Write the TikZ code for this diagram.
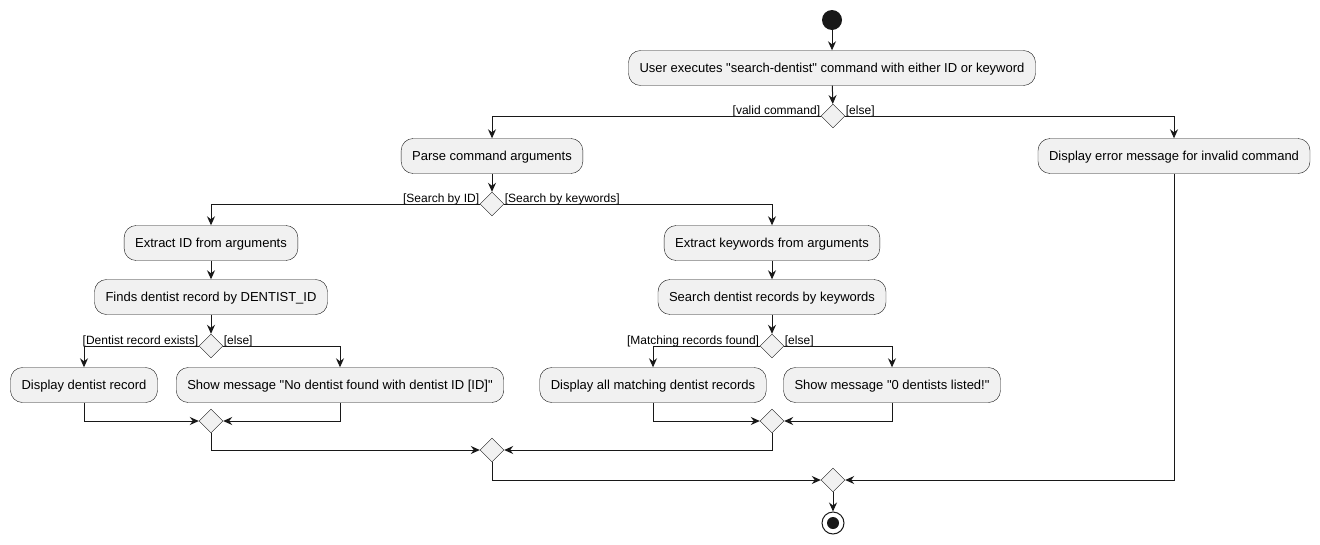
\documentclass[tikz,border=0pt]{standalone}
\usepackage{fontspec}
\newfontfamily\uifont{Liberation Sans}
\usepackage{tikz}
\usetikzlibrary{arrows.meta}
\usetikzlibrary{shapes.geometric}
\definecolor{boxfill}{HTML}{F1F1F1}
\definecolor{ink}{HTML}{181818}
\tikzset{act/.style={draw=ink,fill=boxfill,rounded corners=12pt,minimum height=35pt,inner xsep=11pt,text height=11pt,text depth=3pt,font=\uifont\fontsize{13}{13}\selectfont}}
\tikzset{dec/.style={draw=ink,fill=boxfill,diamond,minimum size=24pt,inner sep=0pt}}
\tikzset{grd/.style={font=\uifont\fontsize{12}{12}\selectfont,inner sep=0.5pt,yshift=-1.5pt}}
\tikzset{flow/.style={-{Stealth[length=9pt,width=8pt,inset=3pt]},line width=1pt,draw=ink}}

\begin{document}
\begin{tikzpicture}[x=1pt,y=-1pt]
      \useasboundingbox (0,0) rectangle (1320,544);
      \node[circle,fill=ink,minimum size=20pt,inner sep=0pt] (start) at (832,20) {};
      \node[act] (exec) at (832,68) {User executes "search-dentist" command with either ID or keyword};
      \node[dec] (valid) at (833,116) {};
      \node[grd,anchor=south east] at (valid.west) {[valid command]};
      \node[grd,anchor=south west] at (valid.east) {[else]};
      \node[act] (parse) at (492,156) {Parse command arguments};
      \node[act] (err) at (1174,156) {Display error message for invalid command};
      \node[dec] (kind) at (492,204) {};
      \node[grd,anchor=south east] at (kind.west) {[Search by ID]};
      \node[grd,anchor=south west] at (kind.east) {[Search by keywords]};
      % search by ID
      \node[act] (extid) at (211,243) {Extract ID from arguments};
      \node[act] (findid) at (211,297) {Finds dentist record by DENTIST\_ID};
      \node[dec] (exists) at (211,346) {};
      \node[grd,anchor=south east] at (exists.west) {[Dentist record exists]};
      \node[grd,anchor=south west] at (exists.east) {[else]};
      \node[act] (showrec) at (84,385) {Display dentist record};
      \node[act] (noid) at (340,385) {Show message "No dentist found with dentist ID [ID]"};
      \node[dec] (joinid) at (211,421) {};
      % search by keywords
      \node[act] (extkw) at (772,243) {Extract keywords from arguments};
      \node[act] (findkw) at (772,297) {Search dentist records by keywords};
      \node[dec] (found) at (772,346) {};
      \node[grd,anchor=south east] at (found.west) {[Matching records found]};
      \node[grd,anchor=south west] at (found.east) {[else]};
      \node[act] (showall) at (653,385) {Display all matching dentist records};
      \node[act] (nokw) at (892,385) {Show message "0 dentists listed!"};
      \node[dec] (joinkw) at (772,421) {};
      % merges and end
      \node[dec] (joinsearch) at (492,450) {};
      \node[dec] (joinall) at (833,480) {};
      \node[circle,draw=ink,line width=1pt,fill=white,minimum size=22pt,inner sep=0pt] (stop) at (833,523) {};
      \node[circle,fill=ink,minimum size=12pt,inner sep=0pt] at (stop) {};

      \draw[flow] (start) -- (exec);
      \draw[flow] (exec) -- (valid);
      \draw[flow] (valid.west) -| (parse.north);
      \draw[flow] (valid.east) -| (err.north);
      \draw[flow] (parse) -- (kind);
      \draw[flow] (kind.west) -| (extid.north);
      \draw[flow] (kind.east) -| (extkw.north);
      \draw[flow] (extid) -- (findid);
      \draw[flow] (findid) -- (exists);
      \draw[flow] (exists.west) -| (showrec.north);
      \draw[flow] (exists.east) -| (noid.north);
      \draw[flow] (showrec.south) |- (joinid.west);
      \draw[flow] (noid.south) |- (joinid.east);
      \draw[flow] (extkw) -- (findkw);
      \draw[flow] (findkw) -- (found);
      \draw[flow] (found.west) -| (showall.north);
      \draw[flow] (found.east) -| (nokw.north);
      \draw[flow] (showall.south) |- (joinkw.west);
      \draw[flow] (nokw.south) |- (joinkw.east);
      \draw[flow] (joinid.south) |- (joinsearch.west);
      \draw[flow] (joinkw.south) |- (joinsearch.east);
      \draw[flow] (joinsearch.south) |- (joinall.west);
      \draw[flow] (err.south) |- (joinall.east);
      \draw[flow] (joinall) -- (stop);
    \end{tikzpicture}
\end{document}
